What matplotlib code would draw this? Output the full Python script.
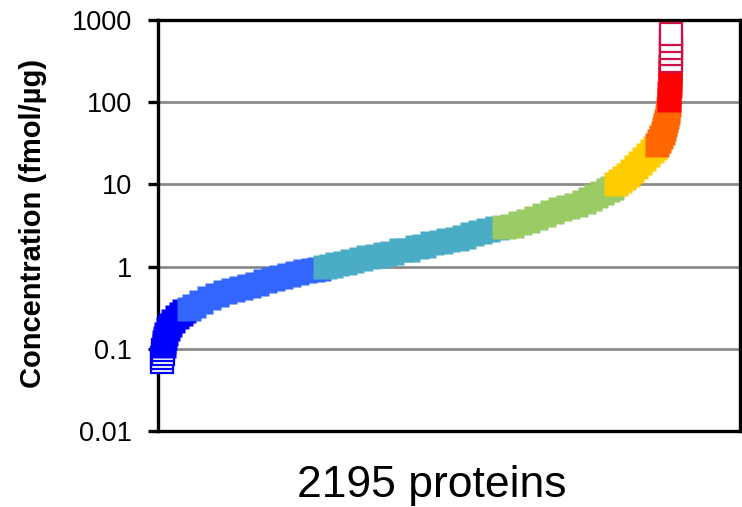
import numpy as np
import matplotlib
matplotlib.use("Agg")
import matplotlib.pyplot as plt

plt.rcParams['font.family'] = ['Liberation Sans', 'DejaVu Sans']

# protein rank (sorted by abundance) and concentration in fmol/ug
rank = [1, 3, 5, 7,
        9, 11, 14, 18, 26, 35, 48, 65, 82, 96,
        117, 139, 169, 203, 238, 272, 306, 341, 375, 410, 444, 478, 513,
        547, 582, 616, 650, 676,
        702, 728, 754, 788, 822, 857, 891, 926, 960, 994, 1029, 1063, 1098,
        1132, 1166, 1201, 1235, 1270, 1304, 1338, 1373, 1407, 1442,
        1476, 1510, 1545, 1579, 1614, 1648, 1682, 1717, 1751, 1786, 1820,
        1846, 1872, 1897, 1923, 1940,
        1957, 1975, 1992, 2009, 2026, 2044, 2061, 2078, 2095, 2112, 2125,
        2134, 2142, 2150, 2157, 2162, 2167, 2171, 2175, 2178, 2181, 2184,
        2185, 2186, 2187, 2188, 2189, 2190,
        2191, 2192, 2193, 2194, 2195]
conc = [0.069, 0.078, 0.087, 0.097,
        0.109, 0.122, 0.136, 0.152, 0.175, 0.196, 0.220, 0.245, 0.267, 0.291,
        0.307, 0.334, 0.374, 0.419, 0.456, 0.496, 0.525, 0.555, 0.587, 0.621,
        0.675, 0.714, 0.755, 0.798, 0.845, 0.893, 0.919, 0.946,
        1.00, 1.03, 1.09, 1.12, 1.18, 1.25, 1.32, 1.36, 1.44, 1.48, 1.57,
        1.61, 1.71, 1.80, 1.91, 2.02, 2.08, 2.19, 2.32, 2.46, 2.60, 2.75, 2.91,
        3.07, 3.16, 3.35, 3.54, 3.85, 4.19, 4.56, 4.96, 5.25, 5.55, 6.03,
        6.56, 7.14, 7.77, 8.45, 8.94,
        10.0, 10.9, 11.8, 12.9, 14.4, 16.1, 18.0, 20.2, 22.6, 25.3, 27.5,
        30.2, 33.4, 37.4, 41.8, 46.9, 52.5, 58.7, 65.6, 73.4, 82.1, 91.8,
        105, 128, 157, 191, 232, 275,
        320, 385, 462, 560, 680]

# concentration bins and their marker styles
bin_edges = [0.1, 0.3, 1, 3, 10, 30, 100, 300]
bin_colors = ['#0000FF', '#0000FF', '#3366FF', '#4BACC6', '#9BCB64',
              '#FFCC00', '#FF6600', '#FF0000', '#CC1144']
bin_hollow = [True, False, False, False, False, False, False, False, True]

rank = np.array(rank)
conc = np.array(conc)
group = np.digitize(conc, bin_edges)

fig = plt.figure(figsize=(7.42, 5.07), dpi=100)
ax = fig.add_axes([158 / 742, 1 - 431 / 507, 582 / 742, 411 / 507])

for g, (col, hollow) in enumerate(zip(bin_colors, bin_hollow)):
    sel = group == g
    if not sel.any():
        continue
    if hollow:
        ax.plot(rank[sel], conc[sel], 's', ms=15.5, mfc='white', mec=col,
                mew=1.6, zorder=3, clip_on=False)
    else:
        ax.plot(rank[sel], conc[sel], 's', ms=17.3, mfc=col, mec='none',
                zorder=3, clip_on=False)

ax.set_yscale('log')
ax.set_ylim(0.01, 1000)
ax.set_xlim(-15, 2490)
ax.set_yticks([0.01, 0.1, 1, 10, 100, 1000])
ax.set_yticklabels(['0.01', '0.1', '1', '10', '100', '1000'])
ax.yaxis.set_minor_locator(matplotlib.ticker.NullLocator())
ax.set_xticks([])
ax.tick_params(axis='y', direction='out', length=7.5, width=2.4, pad=11,
               labelsize=19.5)

ax.grid(axis='y', color='#8a8a8a', lw=2.0)
ax.set_axisbelow(True)
for sp in ax.spines.values():
    sp.set_linewidth(2.4)
    sp.set_color('black')

fig.text(33 / 742, 1 - 223 / 507, 'Concentration (fmol/µg)', rotation=90,
         ha='center', va='center', fontsize=21, fontweight='bold')
fig.text(432 / 742, 1 - 486 / 507, '2195 proteins', ha='center',
         va='center', fontsize=32)

fig.savefig('out.png', dpi=100)
